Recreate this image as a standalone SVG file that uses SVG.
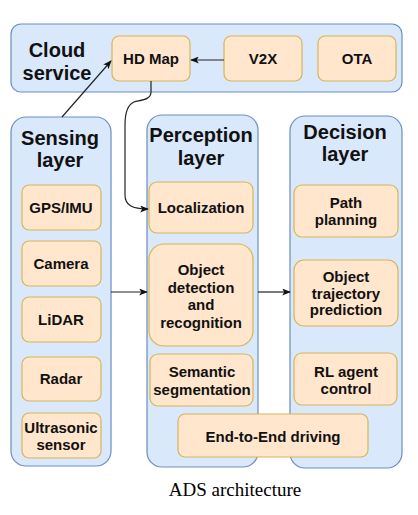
<svg xmlns="http://www.w3.org/2000/svg" width="418" height="515" viewBox="0 0 418 515">
<style>
.cont{fill:#dae8fc;stroke:#6c8ebf;stroke-width:1.2}
.node{fill:#ffe6cc;stroke:#d6b656;stroke-width:1.2}
.title{font-family:"Liberation Sans",Arial,sans-serif;font-weight:bold;font-size:20px;fill:#111;text-anchor:middle}
.lbl{font-family:"Liberation Sans",Arial,sans-serif;font-weight:bold;font-size:15px;fill:#111;text-anchor:middle}
.edge{fill:none;stroke:#222;stroke-width:1.2}
.cap{font-family:"Liberation Serif","Times New Roman",serif;font-size:19px;fill:#000;text-anchor:middle}
</style>
<defs>
<marker id="arr" viewBox="0 0 10 8" refX="9" refY="4" markerWidth="9" markerHeight="7" markerUnits="userSpaceOnUse" orient="auto">
<path d="M0,0 L10,4 L0,8 L2.5,4 z" fill="#111"/>
</marker>
</defs>
<rect width="418" height="515" fill="#fff"/>

<g id="cloud-service">
<rect class="cont" x="11" y="24" width="391" height="68" rx="10"/>
<text class="title" x="57" y="57">Cloud</text>
<text class="title" x="57" y="80">service</text>
</g>
<g id="sensing-layer">
<rect class="cont" x="11" y="117" width="100" height="349" rx="15"/>
<text class="title" x="60" y="145">Sensing</text>
<text class="title" x="60" y="167">layer</text>
</g>
<g id="perception-layer">
<rect class="cont" x="147" y="115" width="111" height="352" rx="15"/>
<text class="title" x="201" y="142">Perception</text>
<text class="title" x="201" y="165">layer</text>
</g>
<g id="decision-layer">
<rect class="cont" x="290" y="116" width="112" height="352" rx="15"/>
<text class="title" x="345" y="139">Decision</text>
<text class="title" x="345" y="161">layer</text>
</g>

<g id="hd-map"><rect class="node" x="112" y="36" width="78" height="45" rx="7"/><text class="lbl" x="151" y="64">HD Map</text></g>
<g id="v2x"><rect class="node" x="224" y="36" width="78" height="45" rx="7"/><text class="lbl" x="263" y="64">V2X</text></g>
<g id="ota"><rect class="node" x="318" y="36" width="78" height="45" rx="7"/><text class="lbl" x="357" y="64">OTA</text></g>

<g id="gps-imu"><rect class="node" x="22" y="185" width="79" height="45" rx="7"/><text class="lbl" x="61" y="213">GPS/IMU</text></g>
<g id="camera"><rect class="node" x="22" y="241" width="79" height="45" rx="7"/><text class="lbl" x="61" y="269">Camera</text></g>
<g id="lidar"><rect class="node" x="22" y="297" width="79" height="45" rx="7"/><text class="lbl" x="61" y="325">LiDAR</text></g>
<g id="radar"><rect class="node" x="22" y="357" width="79" height="44" rx="7"/><text class="lbl" x="61" y="384">Radar</text></g>
<g id="ultrasonic"><rect class="node" x="22" y="413" width="79" height="45" rx="7"/><text class="lbl" x="61" y="433">Ultrasonic</text><text class="lbl" x="61" y="450">sensor</text></g>

<g id="localization"><rect class="node" x="149" y="182" width="104" height="51" rx="8"/><text class="lbl" x="201" y="213">Localization</text></g>
<g id="object-detection"><rect class="node" x="149" y="244" width="104" height="102" rx="15"/>
<text class="lbl" x="201" y="275">Object</text><text class="lbl" x="201" y="292.5">detection</text><text class="lbl" x="201" y="310">and</text><text class="lbl" x="201" y="327.5">recognition</text></g>
<g id="semantic-segmentation"><rect class="node" x="150" y="354" width="103" height="52" rx="8"/><text class="lbl" x="202" y="377">Semantic</text><text class="lbl" x="202" y="395">segmentation</text></g>

<g id="path-planning"><rect class="node" x="294" y="185" width="104" height="52" rx="8"/><text class="lbl" x="346" y="208">Path</text><text class="lbl" x="346" y="225">planning</text></g>
<g id="object-trajectory"><rect class="node" x="294" y="260" width="104" height="66" rx="10"/><text class="lbl" x="346" y="282">Object</text><text class="lbl" x="346" y="298.5">trajectory</text><text class="lbl" x="346" y="315">prediction</text></g>
<g id="rl-agent"><rect class="node" x="294" y="353" width="103" height="52" rx="8"/><text class="lbl" x="346" y="377">RL agent</text><text class="lbl" x="346" y="394">control</text></g>

<g id="end-to-end"><rect class="node" x="178" y="414" width="190" height="43" rx="7"/><text class="lbl" x="273" y="442">End-to-End driving</text></g>

<g id="connectors">
<path class="edge" d="M62,117 L111,61" marker-end="url(#arr)"/>
<path class="edge" d="M224,60 L191,60" marker-end="url(#arr)"/>
<path class="edge" d="M151,81 L151,92 C151,100 141,100 134,102 C127,105 125,115 125,125 L125,195 C125,205 132,209 148,209" marker-end="url(#arr)"/>
<path class="edge" d="M111,292 L147,292" marker-end="url(#arr)"/>
<path class="edge" d="M258,292 L290,292" marker-end="url(#arr)"/>
</g>

<text class="cap" x="235" y="496">ADS architecture</text>
</svg>
